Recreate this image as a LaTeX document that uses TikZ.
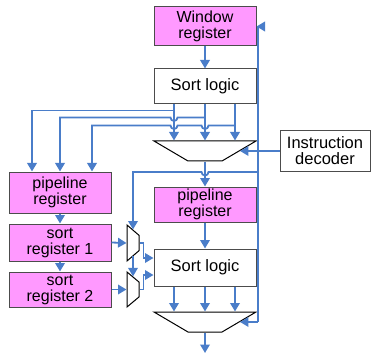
\documentclass[tikz,border=0pt]{standalone}
\usepackage{fontspec}
\setmainfont{Liberation Sans}
\usetikzlibrary{calc, shapes.geometric, arrows.meta}

\definecolor{regpink}{HTML}{FF99FF}
\definecolor{wireblue}{HTML}{4A7DC9}

\begin{document}
\begin{tikzpicture}[x=1pt, y=-1pt]
    \tikzstyle{register} = [rectangle, fill=regpink, draw=black!70, line width=1pt,
        minimum width=102pt, align=center, inner sep=0pt,
        font=\fontsize{16}{16}\selectfont]
    \tikzstyle{logic} = [rectangle, fill=white, draw=black!70, line width=1pt,
        minimum width=102pt, align=center, inner sep=0pt,
        font=\fontsize{16.5}{16}\selectfont]
    \tikzstyle{bigmux} = [trapezium, shape border rotate=180, trapezium angle=45,
        trapezium stretches=true, minimum width=102pt, minimum height=20pt,
        inner sep=0.5pt, draw=black, line width=1pt]
    \tikzstyle{smallmux} = [trapezium, shape border rotate=270, trapezium angle=56,
        trapezium stretches=true, minimum width=36pt, minimum height=12pt,
        inner sep=0.5pt, draw=black, line width=1pt]
    \tikzstyle{wire} = [draw=wireblue, line width=1.8pt]
    \tikzstyle{arr} = [wire, -{Triangle[length=8.5pt, width=9.5pt]}]

    \useasboundingbox (0, 0) rectangle (371, 355);

    % Upper sort stage ---------------------------------
    \node (win) at (205, 26.5) [register, minimum height=39pt] {Window\\register};
    \node (sortA) at ($(win) + (0, 60)$) [logic, minimum height=35pt] {Sort logic};
    \node (muxA) at ($(sortA) + (0, 64.5)$) [bigmux] {};
    \node (dec) at ($(muxA) + (120, 0)$) [logic, minimum width=90pt,
        minimum height=40pt] {Instruction\\decoder};

    % Pipeline registers -------------------------------
    \node (pipeL) at (60, 192.5) [register, minimum height=41pt] {pipeline\\register};
    \node (sreg1) at ($(pipeL) + (0, 50)$) [register, minimum height=37pt] {sort\\register 1};
    \node (sreg2) at ($(sreg1) + (0, 47)$) [register, minimum height=35pt] {sort\\register 2};
    \node (pipeR) at ($(muxA) + (0, 53.5)$) [register, minimum height=35pt] {pipeline\\register};

    % Lower sort stage ---------------------------------
    \node (smux1) at (133, 243) [smallmux] {};
    \node (smux2) at ($(smux1) + (0, 46.5)$) [smallmux, minimum width=35pt] {};
    \node (sortB) at ($(pipeR) + (0, 63)$) [logic, minimum height=37pt] {Sort logic};
    \node (muxB) at ($(sortB) + (0, 54.5)$) [bigmux] {};
    \coordinate (out) at ($(muxB) + (0, 31)$);

    % Feedback bus
    \coordinate (busB) at ($(muxB.east) + (18, 0)$);
    \coordinate (busJ) at (busB |- 0, 172);

    % Upper connections --------------------------------
    \draw [arr] (win) -- (sortA);
    \draw [arr] ($(sortA.south) + (-31, 0)$) -- ($(muxA.north) + (-31, 0)$);
    \draw [arr] (sortA) -- (muxA);
    \draw [arr] ($(sortA.south) + (30, 0)$) -- ($(muxA.north) + (30, 0)$);
    \draw [arr] (dec) -- (muxA.east);

    % Taps to left pipeline register (with hops)
    \draw [arr] ($(sortA.south) + (-31, 6)$) -| ($(pipeL.north) + (-28, 0)$);
    \draw [arr] ($(sortA.south) + (0, 13)$) -- ($(sortA.south) + (-27.5, 13)$)
        arc[start angle=0, end angle=180, radius=3.5]
        -| (pipeL.north);
    \draw [arr] ($(sortA.south) + (30, 21)$) -- ($(sortA.south) + (3.5, 21)$)
        arc[start angle=0, end angle=180, radius=3.5]
        -- ($(sortA.south) + (-27.5, 21)$)
        arc[start angle=0, end angle=180, radius=3.5]
        -| ($(pipeL.north) + (32, 0)$);

    \draw [arr] (muxA) -- (pipeR);

    % Feedback bus -------------------------------------
    \draw [arr] (busB) |- (win.east);
    \draw [arr] (busB) -- (muxB.east);
    \draw [arr] (busJ) -- ($(pipeR.north |- busJ) + (3.5, 0)$)
        arc[start angle=0, end angle=180, radius=3.5]
        -| (smux1.north);

    % Lower connections --------------------------------
    \draw [arr] (pipeL) -- (sreg1);
    \draw [arr] (sreg1) -- (sreg2);
    \draw [arr] (sreg1.east) -- (smux1.west);
    \draw [arr] (sreg2.east) -- (smux2.west);
    \draw [arr] (smux1.south) -- (smux2.north);
    \draw [arr] (smux1.east) -- ++(4, 0) |- ($(sortB.west) + (0, -9.5)$);
    \draw [arr] (smux2.east) -- ++(4, 0) |- ($(sortB.west) + (0, 7.5)$);

    \draw [arr] (pipeR) -- (sortB);
    \draw [arr] ($(sortB.south) + (-31, 0)$) -- ($(muxB.north) + (-31, 0)$);
    \draw [arr] (sortB) -- (muxB);
    \draw [arr] ($(sortB.south) + (30, 0)$) -- ($(muxB.north) + (30, 0)$);
    \draw [arr] (muxB) -- (out);
\end{tikzpicture}
\end{document}
